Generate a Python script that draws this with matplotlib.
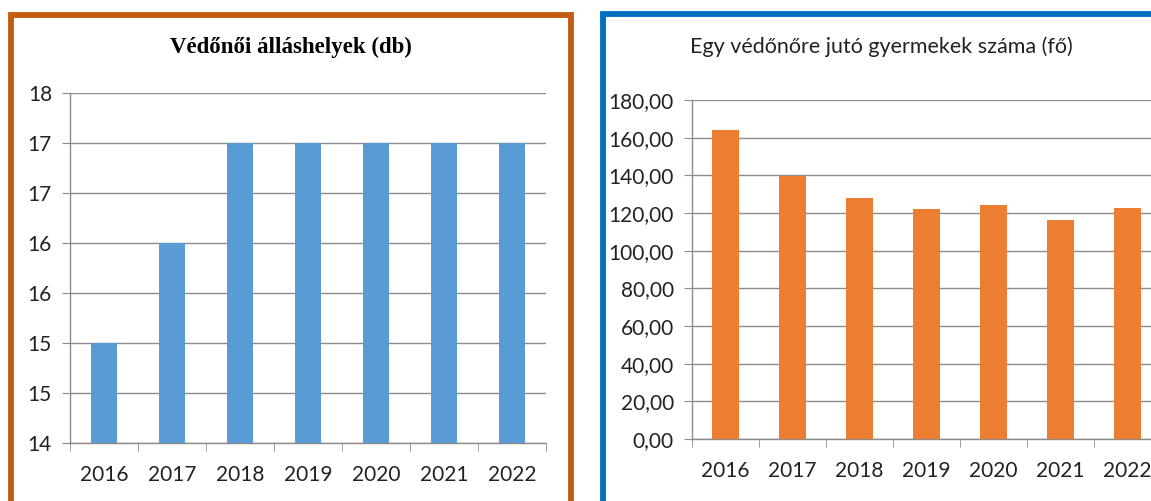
import matplotlib
matplotlib.use("Agg")
import matplotlib.pyplot as plt
from matplotlib.patches import Rectangle

# data
years = ["2016", "2017", "2018", "2019", "2020", "2021", "2022"]
posts = [15, 16, 17, 17, 17, 17, 17]
children_per_nurse = [164.0, 139.7, 127.8, 122.2, 124.5, 116.2, 122.8]

W, H = 1151, 501
GRID = "#8c8c8c"

fig = plt.figure(figsize=(W / 100, H / 100), dpi=100)


def fx(px):
    return px / W


def fy(py):
    return 1 - py / H


def style_axes(ax):
    for s in ("top", "right"):
        ax.spines[s].set_visible(False)
    for s in ("left", "bottom"):
        ax.spines[s].set_color(GRID)
        ax.spines[s].set_linewidth(1)
    ax.yaxis.grid(True, color=GRID, linewidth=1)
    ax.set_axisbelow(True)
    ax.tick_params(axis="y", length=6, color=GRID, labelsize=15, pad=7)
    ax.tick_params(axis="x", length=0, labelsize=15, pad=16)
    # category boundary ticks on the x axis
    n = len(years)
    ax.set_xlim(-0.5, n - 0.5)
    ax.set_xticks(range(n))
    ax.set_xticklabels(years, family="Lato", color="#222222")
    ax.set_xticks([i - 0.5 for i in range(n + 1)], minor=True)
    ax.tick_params(axis="x", which="minor", length=6, color=GRID)
    for lab in ax.get_yticklabels():
        lab.set_family("Lato")
        lab.set_color("#222222")


# left chart
ax1 = fig.add_axes([fx(70), fy(443), fx(546 - 70), fy(93) - fy(443)])
ax1.bar(range(len(years)), posts, width=0.37, color="#5B9BD5", zorder=3)
ax1.set_ylim(14, 17.5)
yt = [14 + 0.5 * i for i in range(8)]
ax1.set_yticks(yt)
ax1.set_yticklabels([str(int(v + 0.5)) for v in yt])
style_axes(ax1)
fig.text(fx(291), fy(47), "Védőnői álláshelyek (db)", ha="center", va="center",
         family="Liberation Serif", fontweight="bold", fontsize=16.5)

# right chart
ax2 = fig.add_axes([fx(692), fy(439), fx(1161 - 692), fy(100) - fy(439)])
ax2.bar(range(len(years)), children_per_nurse, width=0.39, color="#ED7D31", zorder=3)
ax2.set_ylim(0, 180)
yt2 = list(range(0, 181, 20))
ax2.set_yticks(yt2)
ax2.set_yticklabels([f"{v:.2f}".replace(".", ",") for v in yt2])
style_axes(ax2)
fig.text(fx(881), fy(47), "Egy védőnőre jutó gyermekek száma (fő)", ha="center",
         va="center", family="Lato", fontsize=15.5, color="#222222")

# panel frames
fig.patches.append(Rectangle((fx(11), fy(530)), fx(571 - 11), fy(14.5) - fy(530),
                             transform=fig.transFigure, fill=False,
                             edgecolor="#C55A11", linewidth=4.2, zorder=10))
fig.patches.append(Rectangle((fx(603), fy(530)), fx(1170 - 603), fy(13.5) - fy(530),
                             transform=fig.transFigure, fill=False,
                             edgecolor="#0070C0", linewidth=4.2, zorder=10))

fig.savefig("out.png", dpi=100)
